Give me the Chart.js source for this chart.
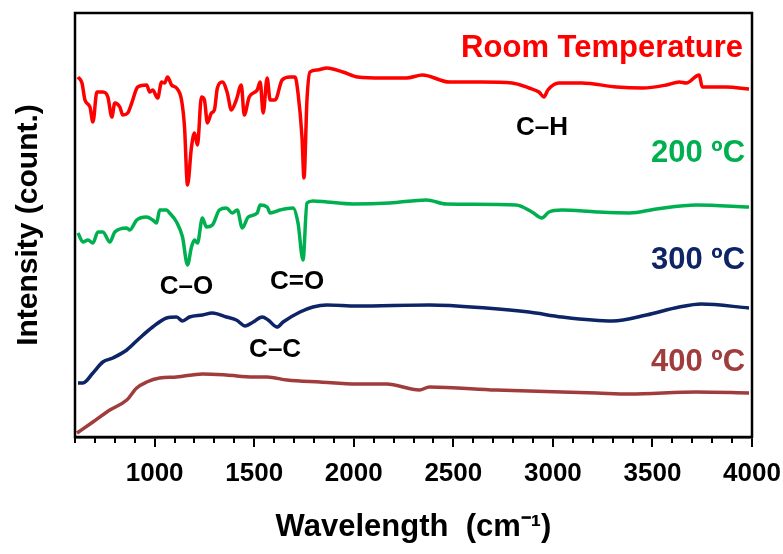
<!DOCTYPE html>
<html>
<head>
<meta charset="utf-8">
<script src="https://cdn.jsdelivr.net/npm/chart.js@4"></script>
<style>
  html, body { margin: 0; padding: 0; background: #fff; }
  #wrap { width: 783px; height: 554px; }
</style>
</head>
<body>
<div id="wrap"><canvas id="ftir"></canvas></div>
<script>
// wavenumbers (cm-1) and intensities (arbitrary units, offset traces)
const roomWave = [615, 635, 650, 675, 690, 710, 740, 765, 785, 800, 825, 840, 865, 885, 915, 960, 975, 990, 1015, 1035, 1050, 1065, 1085, 1110, 1135, 1150, 1165, 1185, 1200, 1215, 1235, 1250, 1265, 1285, 1300, 1315, 1340, 1365, 1385, 1410, 1435, 1450, 1475, 1515, 1530, 1545, 1565, 1580, 1605, 1640, 1680, 1705, 1720, 1740, 1750, 1765, 1780, 1815, 1865, 1945, 2020, 2145, 2265, 2345, 2480, 2645, 2795, 2880, 2930, 2955, 2975, 3030, 3145, 3320, 3450, 3570, 3635, 3670, 3735, 3750, 3870, 3985];
const roomInt  = [360, 354, 337, 330, 315, 345, 345, 340, 320, 334, 330, 322, 324, 334, 350, 352, 345, 347, 339, 355, 354, 360, 352, 349, 337, 310, 252, 290, 304, 292, 340, 337, 314, 324, 327, 349, 355, 344, 327, 337, 352, 322, 340, 347, 355, 324, 359, 337, 337, 357, 360, 360, 344, 300, 259, 337, 365, 367, 369, 365, 360, 359, 359, 362, 355, 355, 354, 349, 345, 340, 347, 354, 354, 350, 349, 352, 355, 354, 362, 350, 350, 348];

const c200Wave = [615, 640, 665, 690, 715, 740, 775, 800, 860, 875, 910, 960, 990, 1010, 1025, 1060, 1075, 1110, 1140, 1165, 1185, 1200, 1215, 1240, 1260, 1290, 1325, 1360, 1390, 1415, 1440, 1470, 1515, 1530, 1565, 1580, 1630, 1695, 1720, 1745, 1765, 1795, 1865, 1995, 2180, 2365, 2465, 2815, 2895, 2945, 2980, 3045, 3220, 3385, 3520, 3720, 3985];
const c200Int  = [204, 195, 197, 194, 205, 205, 195, 205, 209, 207, 217, 220, 217, 214, 227, 227, 224, 215, 200, 172, 190, 197, 194, 219, 210, 212, 227, 229, 224, 227, 209, 220, 224, 232, 230, 224, 227, 229, 214, 177, 234, 236, 235, 233, 234, 237, 233, 232, 225, 219, 225, 227, 225, 224, 228, 232, 230];

const c300Wave = [615, 640, 690, 740, 790, 860, 925, 990, 1060, 1110, 1140, 1175, 1240, 1290, 1360, 1410, 1455, 1495, 1540, 1570, 1615, 1645, 1730, 1795, 1865, 2015, 2380, 2665, 2880, 3045, 3300, 3470, 3635, 3745, 3985];
const c300Int  = [54, 54, 64, 75, 79, 87, 99, 110, 119, 120, 116, 120, 122, 124, 120, 117, 111, 115, 120, 117, 110, 115, 125, 130, 132, 131, 132, 129, 125, 120, 116, 122, 130, 133, 129];

const c400Wave = [610, 690, 775, 860, 910, 960, 1025, 1110, 1240, 1360, 1495, 1565, 1665, 1830, 2015, 2165, 2330, 2380, 2715, 3220, 3385, 3720, 3985];
const c400Int  = [4, 15, 27, 37, 49, 55, 59, 60, 63, 62, 60, 60, 57, 55, 53, 53, 47, 50, 47, 44, 43, 45, 44];

const seriesNames  = ['Room Temperature', '200 ºC', '300 ºC', '400 ºC'];
const seriesColors = ['#ff0000', '#00b050', '#0d2466', '#a03c3c'];

// text labels placed in data coordinates
const labelText  = ['Room Temperature', '200 ºC', '300 ºC', '400 ºC', 'C–H', 'C–O', 'C=O', 'C–C'];
const labelWave  = [3955, 3965, 3965, 3965, 2945, 1160, 1715, 1605];
const labelInt   = [389, 284, 177, 75, 309, 150, 155, 87];
const labelColor = ['#ff0000', '#00b050', '#0d2466', '#a03c3c', '#000', '#000', '#000', '#000'];
const labelAlign = ['right', 'right', 'right', 'right', 'center', 'center', 'center', 'center'];

const FONT = '"Liberation Sans", Arial, sans-serif';

function pairs(xs, ys) {
    return xs.map((x, i) => ({ x: x, y: ys[i] }));
}

const traces = [
    pairs(roomWave, roomInt),
    pairs(c200Wave, c200Int),
    pairs(c300Wave, c300Int),
    pairs(c400Wave, c400Int)
];

const frameAndLabels = {
    id: 'frameAndLabels',
    afterDraw(chart) {
        const ctx = chart.ctx;
        const a = chart.chartArea;
        const xs = chart.scales.x;
        const ys = chart.scales.y;
        ctx.save();
        // minor ticks
        ctx.strokeStyle = '#000';
        ctx.lineWidth = 2;
        xs.ticks.forEach(t => {
            if (t.value % 500 === 0) return;
            const px = Math.round(xs.getPixelForValue(t.value));
            ctx.beginPath();
            ctx.moveTo(px, a.bottom);
            ctx.lineTo(px, a.bottom + 6);
            ctx.stroke();
        });
        // frame
        ctx.lineWidth = 2.5;
        ctx.strokeRect(a.left, a.top, a.right - a.left, a.bottom - a.top);
        // text labels
        ctx.textBaseline = 'middle';
        labelText.forEach((txt, i) => {
            ctx.fillStyle = labelColor[i];
            ctx.textAlign = labelAlign[i];
            ctx.font = (i < 4 ? 'bold 31px ' : 'bold 26px ') + FONT;
            ctx.fillText(txt, xs.getPixelForValue(labelWave[i]), ys.getPixelForValue(labelInt[i]));
        });
        ctx.restore();
    }
};

new Chart(document.getElementById('ftir'), {
    type: 'line',
    data: {
        datasets: traces.map((d, i) => ({
            label: seriesNames[i],
            data: d,
            borderColor: seriesColors[i],
            borderWidth: 3.5,
            pointRadius: 0,
            cubicInterpolationMode: 'monotone',
            fill: false
        }))
    },
    options: {
        responsive: true,
        maintainAspectRatio: false,
        animation: false,
        layout: { padding: { top: 13, right: 31, left: 0, bottom: 0 } },
        plugins: {
            legend: { display: false },
            tooltip: { enabled: false }
        },
        scales: {
            x: {
                type: 'linear',
                min: 600,
                max: 4000,
                afterFit: (scale) => {
                    scale.height = 117;
                    scale.paddingLeft = 0;
                    scale.paddingRight = 0;
                },
                ticks: {
                    stepSize: 100,
                    autoSkip: false,
                    maxRotation: 0,
                    padding: 11,
                    color: '#000',
                    font: { family: FONT, size: 26, weight: 'bold' },
                    callback: (v) => (v % 500 === 0 ? String(v) : '')
                },
                grid: {
                    drawOnChartArea: false,
                    tickLength: 10,
                    lineWidth: 2,
                    color: (c) => (c.tick && c.tick.value % 500 === 0 ? '#000' : 'rgba(0,0,0,0)')
                },
                border: { display: true, color: '#000', width: 2.5 },
                title: {
                    display: true,
                    text: 'Wavelength  (cm⁻¹)',
                    color: '#000',
                    font: { family: FONT, size: 31, weight: 'bold' },
                    padding: { top: 0, bottom: 8 }
                }
            },
            y: {
                min: 0,
                max: 424,
                afterFit: (scale) => { scale.width = 75; },
                ticks: { display: false },
                grid: { display: false },
                border: { display: false },
                title: {
                    display: true,
                    text: 'Intensity (count.)',
                    color: '#000',
                    font: { family: FONT, size: 30, weight: 'bold' },
                    padding: { top: 11, bottom: 0 }
                }
            }
        }
    },
    plugins: [frameAndLabels]
});
</script>
</body>
</html>
